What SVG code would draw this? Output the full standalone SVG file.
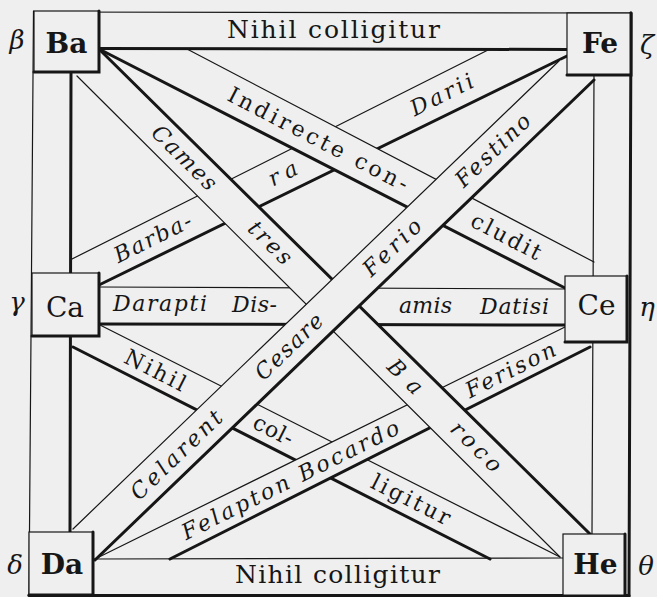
<svg xmlns="http://www.w3.org/2000/svg" width="657" height="597" viewBox="0 0 657 597">
<style>
.bg{fill:#efefef}
.bf{fill:#efefef;stroke:none}
.thin{stroke:#161616;stroke-width:1.2;fill:none;stroke-linecap:round}
.thick{stroke:#161616;stroke-width:3;fill:none;stroke-linecap:round}
.it{font-family:"DejaVu Serif","Liberation Serif",serif;font-style:italic;font-size:22px;fill:#161616}
.rom{font-family:"DejaVu Serif","Liberation Serif",serif;font-size:22px;fill:#161616}
.big{font-family:"DejaVu Serif","Liberation Serif",serif;font-size:25px;fill:#161616}
.box{fill:#efefef;stroke:#161616;stroke-width:1.2}
.nb{font-family:"DejaVu Serif","Liberation Serif",serif;font-size:28px;font-weight:bold;fill:#161616;text-anchor:middle}
.nn{font-family:"DejaVu Serif","Liberation Serif",serif;font-size:28px;fill:#161616;text-anchor:middle}
.gr{font-family:"DejaVu Serif","Liberation Serif",serif;font-style:italic;font-size:26px;fill:#161616;text-anchor:middle}
</style>
<rect class="bg" x="0" y="0" width="657" height="597"/>
<g id="connectors">
 <g id="band-fe-ca">
  <polygon class="bf" points="490,49 72,259 99,285 567,56"/>
  <line class="thin" x1="490" y1="49" x2="72" y2="259"/>
  <line class="thick" x1="567" y1="56" x2="99" y2="285"/>
  <text class="it" transform="translate(442,95.1) rotate(-26.36)" x="-34" y="7" textLength="68" lengthAdjust="spacing">Darii</text>
  <text class="it" transform="translate(283,173.9) rotate(-26.36)" x="-15" y="7" textLength="30" lengthAdjust="spacing">ra</text>
  <text class="it" transform="translate(153,238.3) rotate(-26.36)" x="-42" y="7" textLength="84" lengthAdjust="spacing">Barba-</text>
 </g>
 <g id="band-ca-ce">
  <polygon class="bf" points="99,287 565,289 565,325 99,324"/>
  <line class="thin" x1="99" y1="287" x2="565" y2="289"/>
  <line class="thick" x1="99" y1="324" x2="565" y2="325"/>
  <text class="it" x="113" y="311" textLength="94" lengthAdjust="spacing">Darapti</text>
  <text class="it" x="232" y="311.5" textLength="45" lengthAdjust="spacing">Dis-</text>
  <text class="it" x="399" y="313" textLength="53" lengthAdjust="spacing">amis</text>
  <text class="it" x="480" y="313.5" textLength="69" lengthAdjust="spacing">Datisi</text>
 </g>
 <g id="band-ca-he">
  <polygon class="bf" points="100,325 560,557 490,559 73,347"/>
  <line class="thin" x1="100" y1="325" x2="560" y2="557"/>
  <line class="thick" x1="73" y1="347" x2="490" y2="559"/>
  <text class="rom" transform="translate(155.1,370.7) rotate(26.84)" x="-33" y="7" textLength="66" lengthAdjust="spacing">Nihil</text>
  <text class="rom" transform="translate(273.2,430.5) rotate(26.84)" x="-21" y="7" textLength="42" lengthAdjust="spacing">col-</text>
  <text class="rom" transform="translate(410.8,500.1) rotate(26.84)" x="-43" y="7" textLength="86" lengthAdjust="spacing">ligitur</text>
 </g>
 <g id="band-da-ce">
  <polygon class="bf" points="95,559 565,327 590,347 170,559"/>
  <line class="thin" x1="95" y1="559" x2="565" y2="327"/>
  <line class="thick" x1="170" y1="559" x2="590" y2="347"/>
  <text class="it" transform="translate(290.5,480.3) rotate(-26.54)" x="-120" y="7" textLength="240" lengthAdjust="spacing">Felapton Bocardo</text>
  <text class="it" transform="translate(510.6,370.3) rotate(-26.54)" x="-49" y="7" textLength="98" lengthAdjust="spacing">Ferison</text>
 </g>
 <g id="band-ba-ce">
  <polygon class="bf" points="187,49 594,262 565,288 99,49"/>
  <line class="thin" x1="187" y1="49" x2="594" y2="262"/>
  <line class="thick" x1="99" y1="49" x2="565" y2="288"/>
  <text class="rom" transform="translate(318,139.5) rotate(27.39)" x="-100" y="7" textLength="200" lengthAdjust="spacing">Indirecte con-</text>
  <text class="rom" transform="translate(506,236.8) rotate(27.39)" x="-38" y="7" textLength="76" lengthAdjust="spacing">cludit</text>
 </g>
 <g id="band-ba-he">
  <polygon class="bf" points="100,50 590,534 560,557 77,76"/>
  <line class="thick" x1="100" y1="50" x2="590" y2="534"/>
  <line class="thin" x1="77" y1="76" x2="560" y2="557"/>
  <text class="it" transform="translate(184,158) rotate(44.77)" x="-41" y="7" textLength="82" lengthAdjust="spacing">Cames</text>
  <text class="it" transform="translate(270,243) rotate(44.77)" x="-26" y="7" textLength="52" lengthAdjust="spacing">tres</text>
  <text class="it" transform="translate(405,377) rotate(44.77)" x="-20" y="7" textLength="40" lengthAdjust="spacing">Ba</text>
  <text class="it" transform="translate(476,447) rotate(44.77)" x="-31" y="7" textLength="62" lengthAdjust="spacing">roco</text>
 </g>
 <g id="band-fe-da">
  <polygon class="bf" points="560,60 594,80 95,560 73,529"/>
  <line class="thin" x1="560" y1="60" x2="73" y2="529"/>
  <line class="thick" x1="594" y1="80" x2="95" y2="560"/>
  <text class="it" transform="translate(493.2,150.6) rotate(-43.9)" x="-47.5" y="7" textLength="95" lengthAdjust="spacing">Festino</text>
  <text class="it" transform="translate(392.4,247.7) rotate(-43.9)" x="-36" y="7" textLength="72" lengthAdjust="spacing">Ferio</text>
  <text class="it" transform="translate(289.3,346.9) rotate(-43.9)" x="-42.5" y="7" textLength="85" lengthAdjust="spacing">Cesare</text>
  <text class="it" transform="translate(176.7,455.3) rotate(-43.9)" x="-59" y="7" textLength="118" lengthAdjust="spacing">Celarent</text>
 </g>
 <g id="frame">
  <line class="thin" x1="34" y1="12" x2="631" y2="13"/>
  <line class="thick" x1="99" y1="48.5" x2="567" y2="49.5"/>
  <line class="thin" x1="33.5" y1="11" x2="29" y2="595"/>
  <line class="thick" x1="71" y1="72" x2="70" y2="532"/>
  <line class="thick" x1="631" y1="13" x2="629" y2="597"/>
  <line class="thin" x1="594" y1="75" x2="592" y2="534"/>
  <line class="thin" x1="93" y1="559" x2="563" y2="558"/>
  <line class="thick" x1="29" y1="595.5" x2="629" y2="595.5"/>
  <text class="big" x="227" y="38" textLength="213" lengthAdjust="spacing">Nihil colligitur</text>
  <text class="big" x="235" y="583" textLength="205" lengthAdjust="spacing">Nihil colligitur</text>
 </g>
</g>
<g id="node-ba">
 <rect class="box" x="34" y="11" width="65" height="61"/>
 <polyline class="thick" points="99,11 99,72 34,72"/>
 <text class="nb" x="66.5" y="53">Ba</text>
 <text class="gr" x="17" y="49">β</text>
</g>
<g id="node-fe">
 <rect class="box" x="567" y="13" width="64" height="62"/>
 <polyline class="thick" points="631,13 631,75 567,75"/>
 <text class="nb" x="600" y="53">Fe</text>
 <text class="gr" x="647" y="54">ζ</text>
</g>
<g id="node-ca">
 <rect class="box" x="32" y="273" width="67" height="63"/>
 <polyline class="thick" points="99,273 99,336 32,336"/>
 <text class="nn" x="65" y="317">Ca</text>
 <text class="gr" x="17" y="311">γ</text>
</g>
<g id="node-ce">
 <rect class="box" x="565" y="276" width="62" height="66"/>
 <polyline class="thick" points="627,276 627,342 565,342"/>
 <text class="nn" x="596.5" y="315">Ce</text>
 <text class="gr" x="647" y="316">η</text>
</g>
<g id="node-da">
 <rect class="box" x="29" y="532" width="64" height="63"/>
 <polyline class="thick" points="93,532 93,595 29,595"/>
 <text class="nb" x="62" y="574">Da</text>
 <text class="gr" x="15" y="574">δ</text>
</g>
<g id="node-he">
 <rect class="box" x="563" y="534" width="62" height="62"/>
 <polyline class="thick" points="625,534 625,596 563,596"/>
 <text class="nb" x="595.5" y="574">He</text>
 <text class="gr" x="646" y="575">θ</text>
</g>
</svg>
